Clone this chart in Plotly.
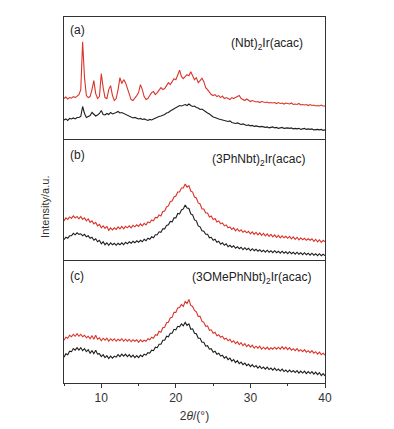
import numpy as np
import plotly.graph_objects as go
from plotly.subplots import make_subplots

# 2theta sampling grid (degrees)
two_theta = list(np.round(np.arange(5.0, 40.001, 0.25), 2))

red_a = [41, 42.5, 40.5, 42, 41.5, 43, 42, 44, 45, 50, 98, 62, 44, 42, 43, 50,
         59, 46, 41, 43, 66, 52, 42, 41, 50, 54, 44, 39, 41, 50, 62, 56,
         60, 57, 52, 45, 40, 39, 41, 44, 47, 55, 50, 43, 40, 41, 44, 47,
         48, 45, 47, 49, 52, 50, 51, 54, 57, 55, 58, 61, 60, 64, 69.5, 63,
         61, 63, 65, 64, 68, 64, 60, 62, 57, 59, 61.5, 58, 52, 50, 47, 45,
         44, 45, 43, 44, 42, 43.5, 41, 42, 41, 40, 42, 41, 42, 43, 44, 41,
         40, 39, 40.5, 39, 38, 39, 38.5, 37.5, 38, 37, 38, 37.5, 37, 37.5, 36.5, 37,
         36.5, 37, 36, 37, 36, 36.5, 35.5, 36.5, 36, 35.5, 36.5, 35, 35.5, 35, 36, 34.5,
         35, 34.5, 35, 34, 35, 34, 34.5, 33.5, 34, 33.5, 34.5, 33.5, 33.5]
black_a = [19.5, 20.5, 19, 21, 20.5, 21.5, 20.5, 22, 22, 23, 33, 26, 22, 23, 24, 27,
           25, 23.5, 24.5, 26, 29, 25, 24.5, 26, 25, 27, 25.5, 26, 27, 28, 26.5, 27,
           26, 25, 24.5, 23, 22.5, 21.5, 22, 21, 20.5, 21, 20, 20.5, 19.5, 19, 20, 19.5,
           20.5, 21.5, 22, 23, 23.5, 24, 25, 26.5, 27, 28.5, 29.5, 31, 31.5, 33, 34, 33.5,
           34.5, 35, 34, 35.5, 34, 33, 33.5, 32, 31.5, 30, 30.5, 29, 28, 26.5, 25.5, 24,
           22.5, 22, 21, 20.5, 20, 19.5, 19, 18.5, 18, 18.5, 17, 16.5, 16, 16.5, 15.5, 15,
           15.5, 14.5, 14, 14.5, 13.5, 14, 13, 13.5, 13, 12.5, 13, 12.5, 12, 12.5, 11.5, 12,
           12.5, 11.5, 12, 11, 11.5, 12, 11, 11.5, 11.5, 11, 11.5, 10.5, 11, 10.5, 11, 10,
           10.5, 11, 10, 10.5, 10, 10.5, 9.5, 10, 10, 9.5, 10, 9, 9.5]
red_b = [39, 42, 40.5, 43, 41.5, 44, 42, 43.5, 41, 43.5, 40.5, 42, 39, 41, 37.5, 39,
         36, 37.5, 34, 35.5, 32, 34, 31.5, 33.5, 29.5, 32, 30, 32, 30.5, 33, 31, 33.5,
         31, 33.5, 32, 34, 32, 34.5, 33, 35, 33.5, 36, 34, 36.5, 35, 38, 37, 40,
         39, 42.5, 42, 45, 44, 48.5, 49, 53, 54, 58.5, 59, 63, 64, 68, 68, 72,
         72, 76, 73, 74.5, 69, 68, 63, 62, 57, 56, 51, 51, 47, 47, 43, 44,
         40.5, 41.5, 38, 39, 36, 37, 34, 35, 32, 33, 30.5, 32, 29, 31, 28.5, 30,
         27.5, 29, 27, 28.5, 26, 28, 25.5, 27.5, 25, 27, 24.5, 26.5, 24, 26, 23.5, 25.5,
         23, 25, 22.5, 24.5, 22, 24, 22, 23.5, 21.5, 23.5, 21, 23, 20.5, 22.5, 20, 22,
         20, 21.5, 19.5, 21, 19.5, 21, 18.5, 20.5, 18, 20, 17.5, 19.5, 18]
black_b = [20, 22.5, 21.5, 24, 24, 26.5, 25, 27, 25.5, 26, 24, 25.5, 23, 24, 21.5, 22.5,
           19.5, 21, 18, 19.5, 16, 18, 15, 17, 14.5, 17, 15, 16.5, 14.5, 16.5, 15, 17,
           15, 17.5, 16, 18, 16.5, 18.5, 17, 19, 17.5, 19.5, 18, 20.5, 19, 21.5, 20.5, 23,
           22, 25, 25, 28, 27.5, 31, 31, 34.5, 35, 38.5, 38, 42, 42, 46.5, 46, 50,
           51, 55, 52, 51.5, 46, 45, 40, 39, 34, 33, 29, 28.5, 25.5, 25.5, 22, 22.5,
           19.5, 20.5, 17.5, 18.5, 15.5, 17, 14.5, 16, 13, 14.5, 12.5, 14, 11.5, 13, 11, 12.5,
           10, 12, 10, 11.5, 9, 11, 9, 10.5, 8.5, 10, 8, 9.5, 7.5, 9.5, 7.5, 9,
           7, 9, 7, 8.5, 6.5, 8.5, 6.5, 8, 6, 8, 6, 7.5, 5.5, 7.5, 5.5, 7,
           5, 7, 5, 6.5, 4.5, 6.5, 4.5, 6, 4, 6, 4, 5.5, 4]
red_c = [43, 46, 45, 48, 46.5, 49, 47, 49.5, 47, 49, 46.5, 48, 45.5, 47, 44.5, 47.5,
         44, 48, 44, 45.5, 42.5, 45, 43, 45, 42, 44.5, 42.5, 44.5, 42, 44, 42.5, 44.5,
         42, 44, 42, 44, 41.5, 43.5, 42, 43.5, 41, 43.5, 41.5, 43, 42, 44.5, 43.5, 46,
         45, 48.5, 48, 52, 51, 55.5, 56, 60.5, 61, 65.5, 66, 71, 71, 75.5, 76, 79,
         77, 82, 80, 84, 78, 77, 73, 71.5, 67, 67, 62, 61, 57, 57.5, 53, 53.5,
         50, 51, 47.5, 48.5, 46, 47, 44, 45, 42.5, 44, 41, 42.5, 39.5, 41.5, 38.5, 40.5,
         37.5, 39.5, 36.5, 38.5, 36, 38, 35, 37, 35, 37, 34, 36, 34, 36, 33.5, 35.5,
         34, 36, 34, 36, 34, 36.5, 34, 36, 33.5, 35.5, 33, 34.5, 32.5, 34.5, 32, 33.5,
         31.5, 33.5, 31, 32.5, 30.5, 32.5, 30, 31.5, 29, 31, 28.5, 30, 28]
black_c = [26, 29.5, 28.5, 32, 31.5, 34.5, 33, 35.5, 33, 35.5, 32.5, 34.5, 31.5, 33.5, 30, 32.5,
           29.5, 33, 29, 29.5, 26.5, 28.5, 25.5, 27.5, 24.5, 27, 25, 27, 26, 28.5, 26.5, 29,
           27, 29, 26.5, 28.5, 26, 28, 25.5, 27.5, 25.5, 28, 26.5, 29, 28, 30.5, 30, 33,
           32.5, 36, 35.5, 39, 39, 43, 43, 47, 46.5, 50, 50, 54, 53.5, 57, 56.5, 59.5,
           57.5, 61, 58, 59.5, 54, 54.5, 50, 49.5, 45, 45, 41, 41, 37, 37.5, 34, 34.5,
           31, 32, 29, 30, 27, 28, 25, 26.5, 23.5, 25, 22, 23.5, 20.5, 22.5, 19.5, 21,
           18.5, 20, 17.5, 19, 16.5, 18.5, 16, 17.5, 15, 17, 14.5, 16, 14, 16, 13.5, 15,
           13, 15, 12.5, 14, 12, 14, 11.5, 13, 11, 13, 11, 12.5, 10.5, 12.5, 10, 12,
           10, 12, 9.5, 11.5, 9.5, 11.5, 9, 11, 8.5, 10.5, 7.5, 9.5, 7]

panel_tags = ["(a)", "(b)", "(c)"]
sample_names = ["(Nbt)<sub>2</sub>Ir(acac)", "(3PhNbt)<sub>2</sub>Ir(acac)",
                "(3OMePhNbt)<sub>2</sub>Ir(acac)"]
x_ticks = [10, 20, 30, 40]

RED = "#d9342b"
BLK = "#1e1e1e"
FONT = "Liberation Sans, Arial, sans-serif"

fig = make_subplots(rows=3, cols=1, shared_xaxes=True, vertical_spacing=0,
                    row_heights=[123, 121, 124])

series = [(red_a, black_a), (red_b, black_b), (red_c, black_c)]
for i, (r, b) in enumerate(series):
    fig.add_trace(go.Scatter(x=two_theta, y=b, mode="lines",
                             line=dict(color=BLK, width=1.1), showlegend=False), row=i + 1, col=1)
    fig.add_trace(go.Scatter(x=two_theta, y=r, mode="lines",
                             line=dict(color=RED, width=1.1), showlegend=False), row=i + 1, col=1)

yranges = [[0, 123], [0, 121], [0, 124]]
for i in range(3):
    fig.update_yaxes(range=yranges[i], showticklabels=False, ticks="", showgrid=False,
                     zeroline=False, showline=True, mirror=True, linecolor="#333",
                     linewidth=1, row=i + 1, col=1)
    fig.update_xaxes(range=[5, 40], showgrid=False, zeroline=False, showline=True,
                     mirror=(i == 0), linecolor="#333", linewidth=1, row=i + 1, col=1,
                     ticks="" if i < 2 else "outside")

fig.update_xaxes(tickvals=x_ticks, ticklen=4, tickcolor="#333", showticklabels=True,
                 tickfont=dict(size=12, color="#333", family=FONT),
                 minor=dict(dtick=5, tick0=5, ticks="outside", ticklen=2, tickcolor="#333"),
                 title=dict(text="2<i>θ</i>/(°)", font=dict(size=12, color="#333", family=FONT),
                            standoff=7),
                 row=3, col=1)

tag_y = [0.965, 0.622, 0.291]
name_y = [0.927, 0.609, 0.288]
name_x = [0.778, 0.747, 0.720]
for i in range(3):
    fig.add_annotation(x=0.05, y=tag_y[i], xref="paper", yref="paper", text=panel_tags[i],
                       xanchor="center", yanchor="middle", showarrow=False,
                       font=dict(size=12, color="#222", family=FONT))
    fig.add_annotation(x=name_x[i], y=name_y[i], xref="paper", yref="paper",
                       text=sample_names[i], xanchor="center", yanchor="middle",
                       showarrow=False, font=dict(size=12, color="#222", family=FONT))

fig.add_annotation(x=-0.073, y=0.481, xref="paper", yref="paper", text="Intensity/a.u.",
                   textangle=-90, xanchor="center", yanchor="middle", showarrow=False,
                   font=dict(size=11, color="#333", family=FONT))

# page body adds an 8px offset; size the figure so the plot box lands at x 64-325, y 16-384
fig.update_layout(width=386, height=421, margin=dict(l=56, r=69, t=8, b=45),
                  plot_bgcolor="white", paper_bgcolor="white",
                  font=dict(family=FONT, color="#333"))

fig.write_html("out.html")
